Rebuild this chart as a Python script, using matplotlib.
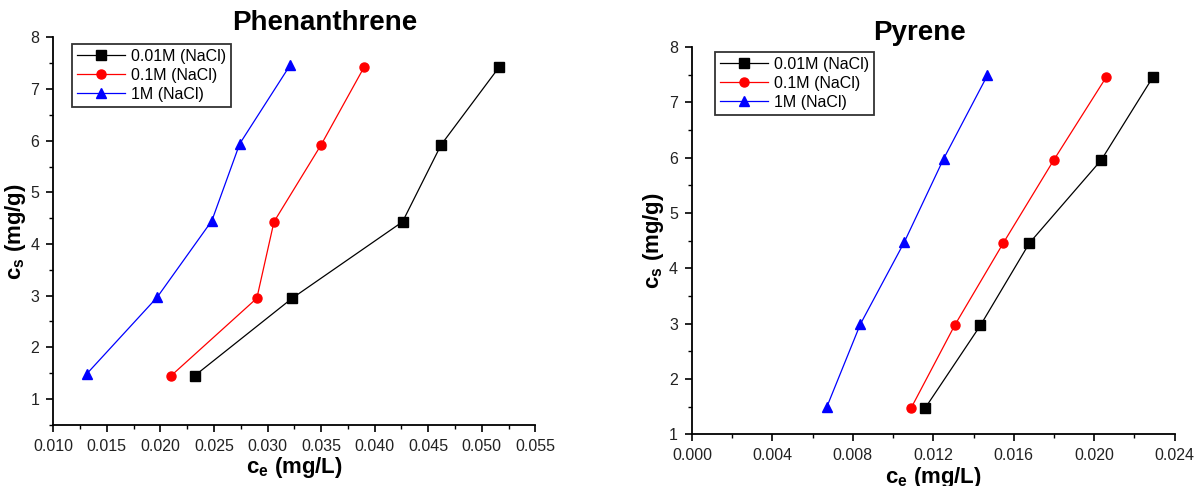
import matplotlib
matplotlib.use("Agg")
import matplotlib.pyplot as plt
from matplotlib.ticker import MultipleLocator, AutoMinorLocator, FormatStrFormatter

plt.rcParams['font.family'] = ['Liberation Sans', 'DejaVu Sans']
plt.rcParams['mathtext.fontset'] = 'custom'
plt.rcParams['mathtext.rm'] = 'Liberation Sans'
plt.rcParams['mathtext.bf'] = 'Liberation Sans:bold'
plt.rcParams['mathtext.it'] = 'Liberation Sans:italic'

labels = ['0.01M (NaCl)', '0.1M (NaCl)', '1M (NaCl)']
colors = ['black', 'red', 'blue']
markers = ['s', 'o', '^']

# Phenanthrene
phe_cs = [1.45, 2.95, 4.43, 5.92, 7.42]
phe_ce_001 = [0.0232, 0.0323, 0.0426, 0.0462, 0.0516]
phe_ce_01 = [0.0210, 0.0290, 0.0306, 0.0350, 0.0390]
phe_ce_1 = [0.0131, 0.0197, 0.0248, 0.0274, 0.0321]
phe_cs_1 = [1.48, 2.97, 4.45, 5.94, 7.46]

# Pyrene
pyr_cs = [1.48, 2.97, 4.46, 5.96, 7.46]
pyr_ce_001 = [0.0116, 0.01434, 0.01678, 0.02035, 0.02292]
pyr_ce_01 = [0.0109, 0.01306, 0.01548, 0.01799, 0.0206]
pyr_ce_1 = [0.00671, 0.00837, 0.01055, 0.01251, 0.01469]
pyr_cs_1 = [1.50, 2.99, 4.47, 5.98, 7.49]

fig = plt.figure(figsize=(11.95, 4.86), dpi=100)
ax1 = fig.add_axes([0.0446, 0.126, 0.4034, 0.797])
ax2 = fig.add_axes([0.579, 0.106, 0.404, 0.797])

def style(ax, xlim, ylim, xmaj, title, title_x, leg_anchor):
    ax.set_xlim(*xlim)
    ax.set_ylim(*ylim)
    ax.xaxis.set_major_locator(MultipleLocator(xmaj))
    ax.xaxis.set_minor_locator(AutoMinorLocator(2))
    ax.xaxis.set_major_formatter(FormatStrFormatter('%.3f'))
    ax.yaxis.set_major_locator(MultipleLocator(1))
    ax.yaxis.set_minor_locator(AutoMinorLocator(2))
    ax.spines['top'].set_visible(False)
    ax.spines['right'].set_visible(False)
    ax.spines['left'].set_linewidth(1.3)
    ax.spines['bottom'].set_linewidth(1.3)
    ax.tick_params(which='major', direction='out', length=5, width=1.2, labelsize=11.5, pad=5,
                   labelcolor='#222222')
    ax.tick_params(which='minor', direction='out', length=3, width=1.0)
    ax.set_xlabel(r'$\mathbf{c_e}$ (mg/L)', fontsize=16, fontweight='bold', labelpad=1)
    ax.set_ylabel(r'$\mathbf{c_s}$ (mg/g)', fontsize=16, fontweight='bold', labelpad=2)
    ax.set_title(title, fontsize=20, fontweight='bold', pad=5, x=title_x)
    leg = ax.legend(loc='upper left', bbox_to_anchor=leg_anchor, borderaxespad=0,
                    fontsize=11.5, frameon=True, fancybox=False,
                    edgecolor='black', handlelength=3, labelspacing=0.25,
                    handletextpad=0.4, borderpad=0.3)
    leg.get_frame().set_linewidth(1.3)

ms = [6.5, 6.5, 7.5]
ax1.plot(phe_ce_001, phe_cs, color=colors[0], marker=markers[0], ms=ms[0], lw=0.9, label=labels[0])
ax1.plot(phe_ce_01, phe_cs, color=colors[1], marker=markers[1], ms=ms[1], lw=0.9, label=labels[1])
ax1.plot(phe_ce_1, phe_cs_1, color=colors[2], marker=markers[2], ms=ms[2], lw=0.9, label=labels[2])
style(ax1, (0.010, 0.055), (0.5, 8), 0.005, 'Phenanthrene', 0.563, (0.039, 0.983))

ax2.plot(pyr_ce_001, pyr_cs, color=colors[0], marker=markers[0], ms=ms[0], lw=0.9, label=labels[0])
ax2.plot(pyr_ce_01, pyr_cs, color=colors[1], marker=markers[1], ms=ms[1], lw=0.9, label=labels[1])
ax2.plot(pyr_ce_1, pyr_cs_1, color=colors[2], marker=markers[2], ms=ms[2], lw=0.9, label=labels[2])
style(ax2, (0.0, 0.024), (1, 8), 0.004, 'Pyrene', 0.472, (0.048, 0.987))

fig.savefig('out.png', dpi=100)
